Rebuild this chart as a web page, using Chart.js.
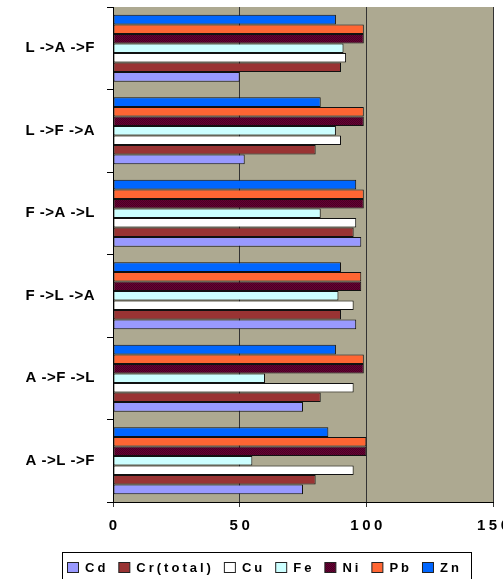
<!DOCTYPE html>
<html>
<head>
<meta charset="utf-8">
<script src="https://cdn.jsdelivr.net/npm/chart.js@4/dist/chart.umd.min.js"></script>
<style>
html,body{margin:0;padding:0;background:#fff;}
#wrap{width:503px;height:579px;position:relative;}
</style>
</head>
<body>
<div id="wrap"><canvas id="c" width="503" height="579"></canvas></div>
<script>
// categories listed top-to-bottom
const categories = ['L ->A ->F', 'L ->F ->A', 'F ->A ->L', 'F ->L ->A', 'A ->F ->L', 'A ->L ->F'];
const seriesNames = ['Cd', 'Cr(total)', 'Cu', 'Fe', 'Ni', 'Pb', 'Zn'];
const cd      = [50, 52, 98, 96, 75, 75];
const crTotal = [90, 80, 95, 90, 82, 80];
const cu      = [92, 90, 96, 95, 95, 95];
const fe      = [91, 88, 82, 89, 60, 55];
const ni      = [99, 99, 99, 98, 99, 100];
const pb      = [99, 99, 99, 98, 99, 100];
const zn      = [88, 82, 96, 90, 88, 85];
const xTicks  = [0, 50, 100, 150];

function makeNiPattern(){
  const c = document.createElement('canvas');
  c.width = 2; c.height = 2;
  const g = c.getContext('2d');
  g.fillStyle = '#660033'; g.fillRect(0,0,2,2);
  g.fillStyle = '#4a0024'; g.fillRect(0,0,1,1); g.fillRect(1,1,1,1);
  return document.getElementById('c').getContext('2d').createPattern(c, 'repeat');
}
const niFill = makeNiPattern();
const colors = ['#9999FF', '#993333', '#FFFFFF', '#CCFFFF', niFill, '#FF6633', '#0066FF'];
const values = [cd, crTotal, cu, fe, ni, pb, zn];

// within each group the last series (Zn) is drawn at the top, so datasets go Zn..Cd
const datasets = seriesNames.map((n, i) => ({
  label: n,
  data: values[i],
  backgroundColor: colors[i],
  borderColor: '#111',
  borderWidth: 1,
  borderSkipped: false,
  categoryPercentage: 0.81,
  barPercentage: 1.0
})).reverse();

const FONT = '"Liberation Sans", Arial, sans-serif';
const spacing = {x: 3.5, y: 0.5};

const bgPlugin = {
  id: 'bg',
  beforeDraw(chart){
    const a = chart.chartArea, ctx = chart.ctx;
    ctx.save();
    ctx.fillStyle = '#ADA991';
    ctx.fillRect(a.left, a.top, a.right - a.left, a.bottom - a.top);
    ctx.restore();
  }
};

const spacingPlugin = {
  id: 'spacing',
  afterLayout(chart){
    Object.values(chart.scales).forEach(s => {
      if (s._wrappedLS) return;
      const orig = s.drawLabels.bind(s);
      s.drawLabels = function(area){
        const ctx = this.ctx;
        const sp = spacing[this.id] || 0;
        ctx.save();
        ctx.letterSpacing = sp + 'px';
        if (this.id === 'x') ctx.translate(sp / 2, 0);
        orig(area);
        ctx.restore();
      };
      s._wrappedLS = true;
    });
  }
};

const legendPlugin = {
  id: 'customLegend',
  afterDraw(chart){
    const ctx = chart.ctx;
    ctx.save();
    ctx.strokeStyle = '#000';
    ctx.lineWidth = 1;
    ctx.strokeRect(62.5, 552.5, 409, 40);
    ctx.font = 'bold 13px ' + FONT;
    ctx.letterSpacing = '3px';
    ctx.textBaseline = 'middle';
    let x = 67;
    chart.data.datasets.slice().reverse().forEach(ds => {
      ctx.fillStyle = ds.backgroundColor;
      ctx.fillRect(x + 0.5, 562.5, 11, 10);
      ctx.strokeStyle = '#222';
      ctx.strokeRect(x + 0.5, 562.5, 11, 10);
      ctx.fillStyle = '#000';
      const tx = x + 18;
      ctx.fillText(ds.label, tx, 568);
      const w = ctx.measureText(ds.label).width;
      x = tx + w + 10;
    });
    ctx.restore();
  }
};

new Chart(document.getElementById('c'), {
  type: 'bar',
  data: { labels: categories, datasets },
  options: {
    indexAxis: 'y',
    responsive: false,
    animation: false,
    layout: { padding: { left: 0, right: 10, top: 7, bottom: 47 } },
    plugins: { legend: { display: false }, tooltip: { enabled: false } },
    scales: {
      y: {
        grid: { offset: true, drawOnChartArea: false, drawTicks: true, tickLength: 6, color: '#000' },
        border: { display: true, color: '#000', width: 1 },
        ticks: { color: '#000', font: { family: FONT, size: 15, weight: 'bold' }, padding: 12 },
        afterFit(s){ s.width = 113; s.paddingTop = 0; s.paddingBottom = 0; }
      },
      x: {
        min: 0, max: 150,
        afterBuildTicks(s){ s.ticks = xTicks.map(v => ({ value: v })); },
        grid: { color: '#333', lineWidth: 1, tickLength: 5, drawTicks: true },
        border: { display: true, color: '#000', width: 1 },
        ticks: { color: '#000', maxRotation: 0, font: { family: FONT, size: 15, weight: 'bold' }, padding: 10 },
        afterFit(s){ s.height = 30; s.paddingLeft = 0; s.paddingRight = 0; }
      }
    }
  },
  plugins: [bgPlugin, spacingPlugin, legendPlugin]
});
</script>
</body>
</html>
